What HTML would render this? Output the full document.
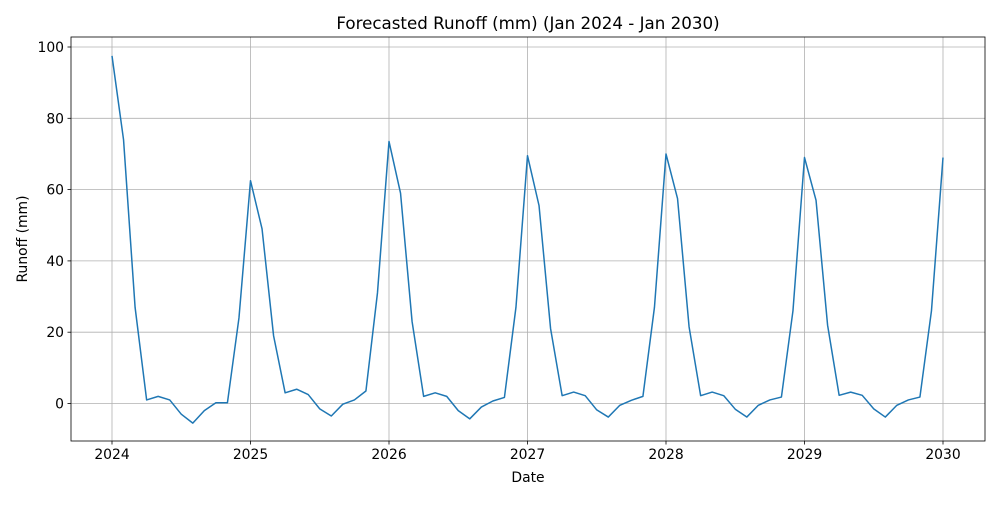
<!DOCTYPE html>
<html><head><meta charset="utf-8"><style>
html,body{margin:0;padding:0;background:#fff;}
svg text{font-family:"DejaVu Sans","Liberation Sans",sans-serif;fill:#000;}
</style></head><body>
<svg id="chart" width="1000" height="500" viewBox="0 0 1000 500">
<rect x="0" y="0" width="1000" height="500" fill="#fff"/>
<text x="528" y="29" font-size="16.7" text-anchor="middle">Forecasted Runoff (mm) (Jan 2024 - Jan 2030)</text>
<g id="grid"></g>
<g id="axes"></g>
<path id="line" fill="none" stroke="#1f77b4" stroke-width="1.5" stroke-linejoin="round"/>
<rect x="71" y="37" width="914" height="404" fill="none" stroke="#000" stroke-width="0.8"/>
<text x="528" y="482" font-size="13.9" text-anchor="middle">Date</text>
<text x="27" y="239" font-size="13.9" text-anchor="middle" transform="rotate(-90 27 239)">Runoff (mm)</text>
</svg>
<script>
const startYear = 2024;
const runoff = [
97.5,74,27,1,2,1,-3,-5.5,-2,0.2,0.2,24,
62.5,49,19,3,4,2.5,-1.5,-3.5,-0.2,1,3.5,31,
73.5,59,23,2,3,2,-2,-4.3,-1,0.7,1.7,27,
69.5,55.5,21,2.2,3.2,2.2,-1.8,-3.8,-0.5,0.9,2,27,
70,57.5,21.5,2.2,3.2,2.2,-1.6,-3.8,-0.5,1,1.8,26,
69,57,22,2.3,3.2,2.3,-1.5,-3.8,-0.5,1,1.8,26,
69
];
const xTicks = [2024,2025,2026,2027,2028,2029,2030];
const yTicks = [0,20,40,60,80,100];

const NS = "http://www.w3.org/2000/svg";
const L=71,R=985,T=37,B=441;
function xs(yr){return 112+(yr-2024)*138.5;}
function ys(v){return 403.5-v*3.565;}
const grid=document.getElementById('grid'), axes=document.getElementById('axes');
function mk(tag,attrs,parent){const e=document.createElementNS(NS,tag);for(const k in attrs)e.setAttribute(k,attrs[k]);parent.appendChild(e);return e;}
xTicks.forEach(t=>{
  const x=xs(t);
  const g=mk('line',{x1:x,x2:x,y1:T,y2:B,stroke:'#b0b0b0','stroke-width':0.8},grid);
  
  
  mk('line',{x1:x,x2:x,y1:B,y2:B+3.5,stroke:'#000','stroke-width':0.8},axes);
  const tx=mk('text',{x:x,y:B+18,'font-size':13.9,'text-anchor':'middle'},axes);
  tx.textContent=t;
  
  
});
yTicks.forEach(t=>{
  const y=ys(t);
  const g=mk('line',{x1:L,x2:R,y1:y,y2:y,stroke:'#b0b0b0','stroke-width':0.8},grid);
  
  
  mk('line',{x1:L-3.5,x2:L,y1:y,y2:y,stroke:'#000','stroke-width':0.8},axes);
  const tx=mk('text',{x:L-7,y:y+5,'font-size':13.9,'text-anchor':'end'},axes);
  tx.textContent=t;
  
  
});
let d='';
runoff.forEach((v,i)=>{d+=(i?'L':'M')+xs(startYear+i/12).toFixed(2)+','+ys(v).toFixed(2);});
document.getElementById('line').setAttribute('d',d);
</script>
</body></html>
